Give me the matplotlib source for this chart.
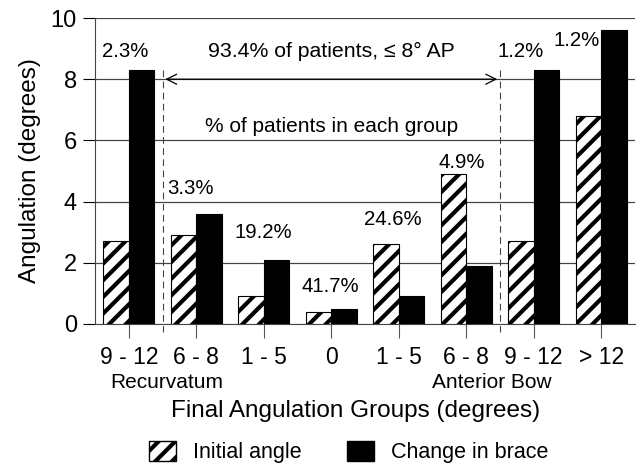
import numpy as np
import matplotlib
matplotlib.use("Agg")
import matplotlib.pyplot as plt
from matplotlib.patches import Patch

plt.rcParams['font.family'] = ['Liberation Sans', 'DejaVu Sans']
plt.rcParams['hatch.linewidth'] = 3.0

groups = ['9 - 12', '6 - 8', '1 - 5', '0', '1 - 5', '6 - 8', '9 - 12', '> 12']
initial_angle = [2.7, 2.9, 0.9, 0.4, 2.6, 4.9, 2.7, 6.8]
change_in_brace = [8.3, 3.6, 2.1, 0.5, 0.9, 1.9, 8.3, 9.6]
pct_labels = ['2.3%', '3.3%', '19.2%', '41.7%', '24.6%', '4.9%', '1.2%', '1.2%']

# where each percentage sits (x in group units, y in degrees)
pct_x = [-0.06, 0.91, 1.99, 2.99, 3.91, 4.94, 5.80, 6.64]
pct_y = [8.89, 4.44, 3.00, 1.21, 3.40, 5.29, 8.89, 9.28]

fig = plt.figure(figsize=(6.4, 4.65), dpi=100)
ax = fig.add_axes([95/640, 1 - 324/465, 540/640, 306/465])

x = np.arange(len(groups))
w = 0.38
ax.bar(x - w/2, initial_angle, w, color='white', edgecolor='black',
       hatch='//', linewidth=0.8, zorder=3, label='Initial angle')
ax.bar(x + w/2, change_in_brace, w, color='black', edgecolor='black',
       linewidth=0.8, zorder=3, label='Change in brace')

ax.set_xlim(-0.5, 7.5)
ax.set_ylim(0, 10)
ax.set_yticks([0, 2, 4, 6, 8, 10])
ax.set_xticks(x)
ax.set_xticklabels(groups, fontsize=16.5)
ax.tick_params(axis='y', labelsize=17, length=9, width=0.8, pad=4)
ax.tick_params(axis='x', length=10, width=0.8, pad=6, color='#555555')
ax.grid(axis='y', color='#444444', linewidth=0.8, zorder=0)
for side in ['top', 'right']:
    ax.spines[side].set_visible(False)
ax.spines['left'].set_color('#444444')
ax.spines['bottom'].set_color('#444444')

# extend the gridlines out to the tick marks on the left
for yv in [2, 4, 6, 8, 10]:
    ax.plot([-0.5, 7.5], [yv, yv], color='#444444', lw=0.8, zorder=0)

# dashed separators for the 8 degree range
for xv in [0.5, 5.5]:
    ax.plot([xv, xv], [8.3, -0.25], ls=(0, (6, 4)), color='#444444',
            lw=0.8, clip_on=False, zorder=4)

ax.annotate('', xy=(0.5, 8), xytext=(5.5, 8),
            arrowprops=dict(arrowstyle='<->', color='black', lw=0.9,
                            mutation_scale=18))
ax.text(3.0, 8.89, '93.4% of patients, \u2264 8\u00b0 AP', ha='center',
        va='center', fontsize=15.3)
ax.text(3.0, 6.47, '% of patients in each group', ha='center',
        va='center', fontsize=15)

for lab, px, py in zip(pct_labels, pct_x, pct_y):
    ax.text(px, py, lab, ha='center', va='center', fontsize=14.7, zorder=5)

ax.text(0.57, -0.19, 'Recurvatum', transform=ax.get_xaxis_transform(),
        ha='center', va='center', fontsize=15)
ax.text(5.38, -0.19, 'Anterior Bow', transform=ax.get_xaxis_transform(),
        ha='center', va='center', fontsize=15)

ax.set_ylabel('Angulation (degrees)', fontsize=17.5)
ax.yaxis.set_label_coords(-0.1, 0.5)
ax.set_xlabel('Final Angulation Groups (degrees)', fontsize=17.5)
ax.xaxis.set_label_coords(0.482, -0.25)

handles = [Patch(facecolor='white', edgecolor='black', hatch='//', label='Initial angle'),
           Patch(facecolor='black', edgecolor='black', label='Change in brace')]
fig.legend(handles=handles, loc='center', bbox_to_anchor=(0.545, 1 - 452/465),
           ncol=2, frameon=False, fontsize=15.5, handlelength=1.25,
           handleheight=1.1, columnspacing=2.1, handletextpad=0.8)

fig.savefig('out.png', dpi=100)
